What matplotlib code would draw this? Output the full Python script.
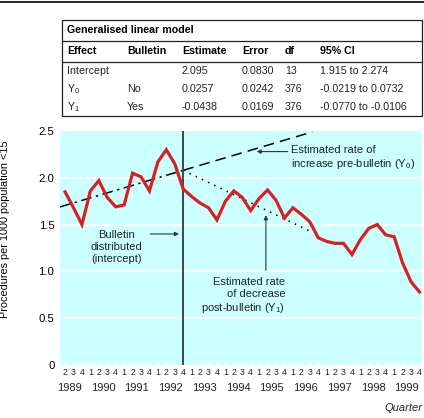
import matplotlib
matplotlib.use("Agg")
import matplotlib.pyplot as plt
from matplotlib.lines import Line2D
from matplotlib.patches import Rectangle

plt.rcParams['font.family'] = ['Liberation Sans', 'DejaVu Sans']
plt.rcParams['mathtext.fontset'] = 'custom'
plt.rcParams['mathtext.rm'] = 'Liberation Sans'
plt.rcParams['mathtext.it'] = 'Liberation Sans'

# quarterly series, 1989 Q2 .. 1999 Q4
years = [1989, 1990, 1991, 1992, 1993, 1994, 1995, 1996, 1997, 1998, 1999]
quarters = [2, 3, 4] + [1, 2, 3, 4] * 10
rate = [1.85, 1.68, 1.50, 1.86, 1.97, 1.79, 1.69, 1.71, 2.05, 2.01, 1.86,
        2.17, 2.30, 2.15, 1.88, 1.80, 1.73, 1.68, 1.55, 1.75, 1.86, 1.79,
        1.65, 1.78, 1.87, 1.76, 1.57, 1.68, 1.61, 1.53, 1.36, 1.32, 1.30,
        1.30, 1.18, 1.34, 1.46, 1.50, 1.39, 1.37, 1.09, 0.89, 0.78]

bulletin_idx = 14          # 1992 Q4
intercept = 2.08
slope_pre = 0.0268
slope_post = -0.0433
trend_end = 29.3

# table contents
tbl_title = "Generalised linear model"
tbl_header = ["Effect", "Bulletin", "Estimate", "Error", "df", "95% CI"]
tbl_rows = [
    ["Intercept", "", "2.095", "0.0830", "13", "1.915 to 2.274"],
    [r"Y$_\mathregular{0}$", "No", "0.0257", "0.0242", "376", "-0.0219 to 0.0732"],
    [r"Y$_\mathregular{1}$", "Yes", "-0.0438", "0.0169", "376", "-0.0770 to -0.0106"],
]

W, H = 424, 418
fig = plt.figure(figsize=(W / 100, H / 100), dpi=100)

# overlay axes in pixel units for the table and top rule
ov = fig.add_axes([0, 0, 1, 1])
ov.set_xlim(0, W)
ov.set_ylim(H, 0)
ov.axis('off')
ov.add_line(Line2D([0, W], [1.5, 1.5], color='black', lw=1.2))
ov.add_patch(Rectangle((61.5, 19.5), 360, 96, fill=False, ec='#222222', lw=0.9))
ov.add_line(Line2D([61.5, 421.5], [40.5, 40.5], color='#222222', lw=0.9))
ov.add_line(Line2D([61.5, 421.5], [61.5, 61.5], color='#222222', lw=0.9))
fs = 7.7
ov.text(67, 30, tbl_title, fontsize=fs, fontweight='bold', va='center')
col_x = [67, 127, 182, 242, 285, 320]
for cx, h in zip(col_x, tbl_header):
    ov.text(cx, 51, h, fontsize=fs, fontweight='bold', va='center')
for ry, row in zip([71, 89, 107], tbl_rows):
    for cx, v in zip(col_x, row):
        ov.text(cx, ry, v, fontsize=fs, va='center', color='#222222')

# main chart
ax = fig.add_axes([60 / W, (H - 365) / H, 362 / W, 234 / H])
ax.set_facecolor('#ccffff')
for s in ax.spines.values():
    s.set_visible(False)

x = list(range(len(rate)))
ax.set_xlim(-0.6, 42.3)
ax.set_ylim(0, 2.5)
ax.set_yticks([0, 0.5, 1.0, 1.5, 2.0, 2.5])
ax.set_yticklabels(['0', '0.5', '1.0', '1.5', '2.0', '2.5'], fontsize=8.2)
ax.tick_params(axis='y', length=0, pad=4)
for g in [0.5, 1.0, 1.5, 2.0]:
    ax.axhline(g, color='white', lw=1.3, zorder=1)

ax.set_xticks(x)
ax.set_xticklabels([str(q) for q in quarters], fontsize=6.3, color='#222222')
ax.tick_params(axis='x', direction='in', color='white', length=3, width=1, pad=2)

# year labels centred under each year's four quarters
for i, yr in enumerate(years):
    centre = 4 * i + 0.5
    ax.text(centre, -0.098, str(yr), transform=ax.get_xaxis_transform(),
            ha='center', va='center', fontsize=8, color='#222222')
ax.text(1.0, -0.185, 'Quarter', transform=ax.transAxes, ha='right',
        va='center', fontsize=8, style='italic', color='#222222')

ax.set_ylabel('Procedures per 1000 population <15', fontsize=7.8)
ax.yaxis.set_label_coords(-0.138, 0.58)

# trend lines
x0 = ax.get_xlim()[0]
ax.plot([x0, bulletin_idx], [intercept + slope_pre * (x0 - bulletin_idx), intercept],
        color='black', lw=1.1, linestyle=(0, (7, 3, 1.5, 3)), zorder=3)
ax.plot([bulletin_idx, trend_end],
        [intercept, intercept + slope_pre * (trend_end - bulletin_idx)],
        color='black', lw=1.1, linestyle=(0, (7, 4)), zorder=3)
ax.plot([bulletin_idx, trend_end],
        [intercept, intercept + slope_post * (trend_end - bulletin_idx)],
        color='black', lw=1.1, linestyle=(0, (1, 3.5)), zorder=3)

ax.axvline(bulletin_idx, color='#3c4848', lw=1.4, zorder=4)
ax.plot(x, rate, color='#d92020', lw=2.3, zorder=5, solid_joinstyle='miter')

# annotations
ac = '#333333'
tfs = 8
ax.text(26.8, 2.21, 'Estimated rate of\nincrease pre-bulletin (Y$_\\mathregular{0}$)',
        fontsize=tfs, va='center', ha='left', linespacing=1.2, color='#222222')
ax.annotate('', xy=(22.7, 2.28), xytext=(26.4, 2.28),
            arrowprops=dict(arrowstyle='-|>', color=ac, lw=0.8,
                            mutation_scale=6, shrinkA=0, shrinkB=0))
ax.text(6.1, 1.26, 'Bulletin\ndistributed\n(intercept)', fontsize=tfs,
        ha='center', va='center', linespacing=1.2, color='#222222')
ax.annotate('', xy=(13.5, 1.40), xytext=(10.1, 1.40),
            arrowprops=dict(arrowstyle='-|>', color=ac, lw=0.8,
                            mutation_scale=6, shrinkA=0, shrinkB=0))
ax.text(26.1, 0.74, 'Estimated rate\nof decrease\npost-bulletin (Y$_\\mathregular{1}$)',
        fontsize=tfs, ha='right', va='center', linespacing=1.2, color='#222222')
ax.annotate('', xy=(23.8, 1.60), xytext=(23.8, 1.01),
            arrowprops=dict(arrowstyle='-|>', color=ac, lw=0.8,
                            mutation_scale=6, shrinkA=0, shrinkB=0))

fig.savefig('out.png', dpi=100)
